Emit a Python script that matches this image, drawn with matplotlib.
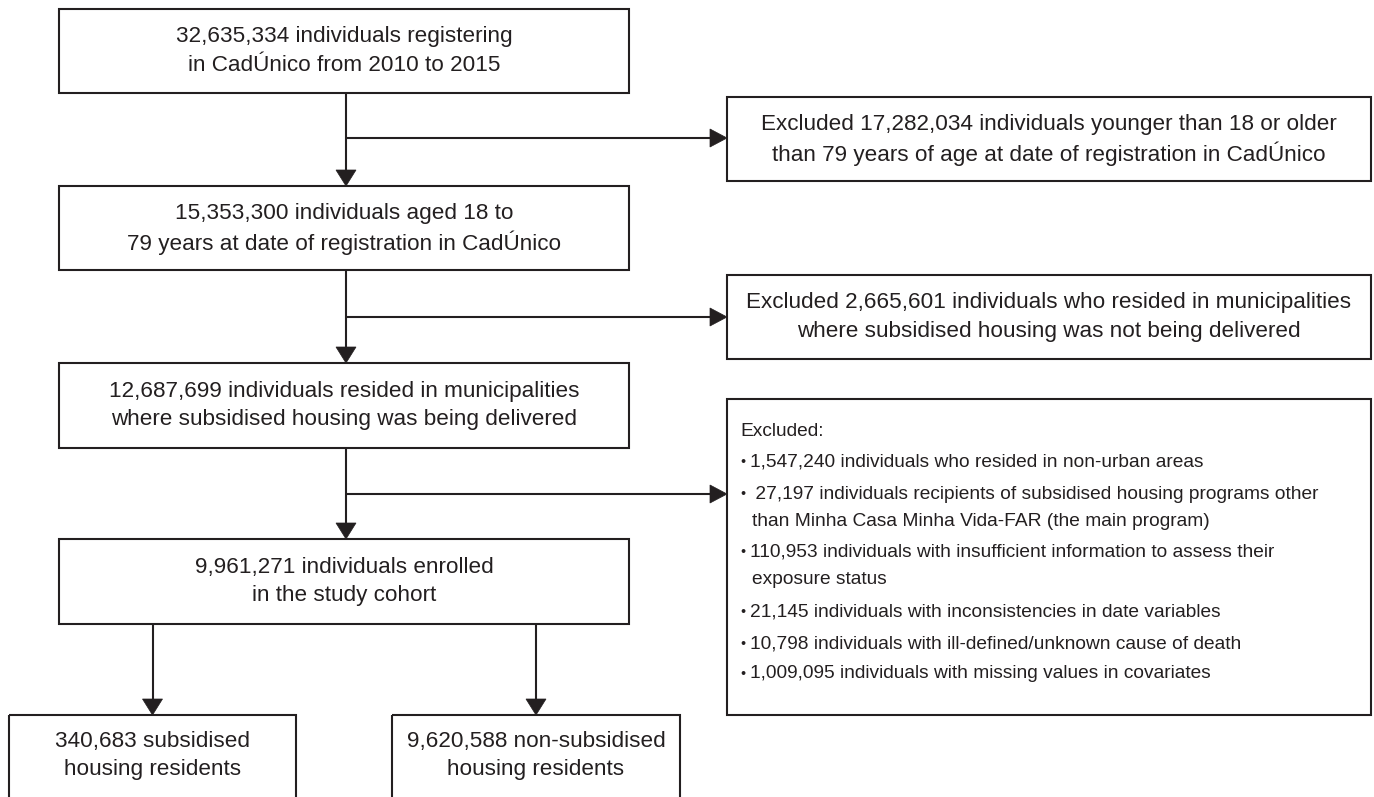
import matplotlib
matplotlib.use("Agg")
import matplotlib.pyplot as plt
from matplotlib.patches import Rectangle, Polygon
from matplotlib import font_manager

# ---- content ----
main_texts = [
    "32,635,334 individuals registering\nin CadÚnico from 2010 to 2015",
    "15,353,300 individuals aged 18 to\n79 years at date of registration in CadÚnico",
    "12,687,699 individuals resided in municipalities\nwhere subsidised housing was being delivered",
    "9,961,271 individuals enrolled\nin the study cohort",
]
excl_texts = [
    "Excluded 17,282,034 individuals younger than 18 or older\nthan 79 years of age at date of registration in CadÚnico",
    "Excluded 2,665,601 individuals who resided in municipalities\nwhere subsidised housing was not being delivered",
]
excl_header = "Excluded:"
excl_items = [
    ["1,547,240 individuals who resided in non-urban areas"],
    [" 27,197 individuals recipients of subsidised housing programs other",
     "than Minha Casa Minha Vida-FAR (the main program)"],
    ["110,953 individuals with insufficient information to assess their",
     "exposure status"],
    ["21,145 individuals with inconsistencies in date variables"],
    ["10,798 individuals with ill-defined/unknown cause of death"],
    ["1,009,095 individuals with missing values in covariates"],
]
final_texts = [
    "340,683 subsidised\nhousing residents",
    "9,620,588 non-subsidised\nhousing residents",
]

# ---- layout (pixels) ----
W, H = 1374, 797
INK = "#231f20"
LW = 1.5
names = {f.name for f in font_manager.fontManager.ttflist}
FAM = ["Liberation Sans Narrow", "DejaVu Sans"] if "Liberation Sans Narrow" in names else ["Liberation Sans", "DejaVu Sans"]
FS = 16.2
FS_LIST = 13.8

main_x0, main_x1 = 59, 629
main_boxes_y = [(9, 93), (186, 270), (363, 448), (539, 624)]
stem_x = 346
branch_y = [138, 317, 494]
right_x0, right_x1 = 727, 1371
right_boxes_y = [(97, 181), (275, 359), (399, 715)]
final_boxes_x = [(9, 296), (392, 680)]
final_top = 715
final_bottom = 830
LINE = 28.5

fig = plt.figure(figsize=(W / 100, H / 100), dpi=100)
ax = fig.add_axes([0, 0, 1, 1])
ax.set_xlim(0, W)
ax.set_ylim(H, 0)
ax.axis("off")


def box(x0, y0, x1, y1):
    ax.add_patch(Rectangle((x0, y0), x1 - x0, y1 - y0, fill=False,
                           edgecolor=INK, linewidth=LW, clip_on=True))


def centered(text, cx, cy):
    lines = text.split("\n")
    n = len(lines)
    for i, ln in enumerate(lines):
        y = cy + (i - (n - 1) / 2) * LINE
        ax.text(cx, y, ln, ha="center", va="center", fontsize=FS,
                family=FAM, color=INK)


def head_down(x, ytip):
    ax.add_patch(Polygon([(x - 10, ytip - 16), (x + 10, ytip - 16), (x, ytip)],
                         closed=True, facecolor=INK, edgecolor=INK, linewidth=0.5))


def head_right(xtip, y):
    ax.add_patch(Polygon([(xtip - 17, y - 9), (xtip - 17, y + 9), (xtip, y)],
                         closed=True, facecolor=INK, edgecolor=INK, linewidth=0.5))


# main boxes
for (y0, y1), t in zip(main_boxes_y, main_texts):
    box(main_x0, y0, main_x1, y1)
    centered(t, (main_x0 + main_x1) / 2, (y0 + y1) / 2)

# vertical connectors with branches
for i in range(3):
    ytop = main_boxes_y[i][1]
    ybot = main_boxes_y[i + 1][0]
    ax.plot([stem_x, stem_x], [ytop, ybot - 14], color=INK, lw=LW, solid_capstyle="butt")
    head_down(stem_x, ybot)
    by = branch_y[i]
    ax.plot([stem_x, right_x0 - 15], [by, by], color=INK, lw=LW, solid_capstyle="butt")
    head_right(right_x0, by)

# right exclusion boxes
for (y0, y1), t in zip(right_boxes_y[:2], excl_texts):
    box(right_x0, y0, right_x1, y1)
    centered(t, (right_x0 + right_x1) / 2, (y0 + y1) / 2)

y0, y1 = right_boxes_y[2]
box(right_x0, y0, right_x1, y1)
tx = 740
ax.text(tx, 431, excl_header, ha="left", va="center", fontsize=FS_LIST, family=FAM, color=INK)
item_y = [[462], [494, 521], [552, 580], [612], [644], [674]]
for lines, ys in zip(excl_items, item_y):
    for j, (ln, yy) in enumerate(zip(lines, ys)):
        if j == 0:
            ax.text(tx, yy, "•", ha="left", va="center", fontsize=FS_LIST * 0.75, family=FAM, color=INK)
            ax.text(tx + 10, yy, ln, ha="left", va="center", fontsize=FS_LIST, family=FAM, color=INK)
        else:
            ax.text(tx + 12, yy, ln, ha="left", va="center", fontsize=FS_LIST, family=FAM, color=INK)

# final split
cohort_bottom = main_boxes_y[3][1]
for (x0, x1), t in zip(final_boxes_x, final_texts):
    cx = (x0 + x1) / 2
    ax.plot([cx, cx], [cohort_bottom, final_top - 14], color=INK, lw=LW, solid_capstyle="butt")
    head_down(cx, final_top)
    box(x0, final_top, x1, final_bottom)
    ax.text(cx, 742, t.split("\n")[0], ha="center", va="center", fontsize=FS, family=FAM, color=INK)
    ax.text(cx, 770, t.split("\n")[1], ha="center", va="center", fontsize=FS, family=FAM, color=INK)

fig.savefig("out.png", dpi=100, facecolor="white")
